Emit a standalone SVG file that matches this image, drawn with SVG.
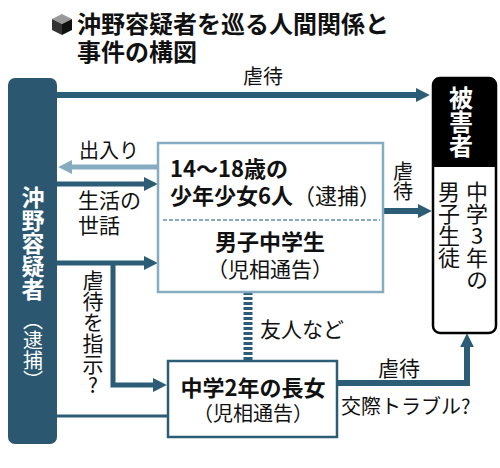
<svg xmlns="http://www.w3.org/2000/svg" width="500" height="468" viewBox="0 0 500 468">
<style>
text{font-family:"Noto Sans CJK JP","Noto Sans",sans-serif;fill:#111}
.b{font-weight:700}
.w{fill:#fff}
.v{writing-mode:vertical-rl;text-orientation:upright}
.dk{stroke:#2c5d76;fill:none}
.lt{stroke:#86acc1;fill:none}
</style>
<defs>
<marker id="ad" viewBox="0 0 10 10" refX="3" refY="5" markerWidth="14" markerHeight="15" markerUnits="userSpaceOnUse" orient="auto"><path d="M0,0 L10,5 L0,10 z" fill="#2c5d76"/></marker>
<marker id="al" viewBox="0 0 10 10" refX="3" refY="5" markerWidth="14" markerHeight="15" markerUnits="userSpaceOnUse" orient="auto"><path d="M0,0 L10,5 L0,10 z" fill="#86acc1"/></marker>
</defs>
<rect width="500" height="468" fill="#fff"/>
<g id="title">
<polygon points="62,14 72,19 62,24 52,19" fill="#999"/>
<polygon points="52,19 62,24 62,35 52,30" fill="#333"/>
<polygon points="72,19 62,24 62,35 72,30" fill="#111"/>
<text class="b" font-size="24"><tspan x="77" y="33">沖野容疑者を巡る人間関係と</tspan><tspan x="77" y="61">事件の構図</tspan></text>
</g>
<g id="connectors">
<line x1="57" y1="95" x2="420" y2="95" class="dk" stroke-width="6" marker-end="url(#ad)"/>
<line x1="158" y1="167" x2="68" y2="167" class="lt" stroke-width="5" marker-end="url(#al)"/>
<line x1="57" y1="184" x2="148" y2="184" class="dk" stroke-width="5" marker-end="url(#ad)"/>
<line x1="57" y1="263" x2="148" y2="263" class="dk" stroke-width="5" marker-end="url(#ad)"/>
<polyline points="113,263 113,385 157,385" class="dk" stroke-width="5" marker-end="url(#ad)"/>
<line x1="57" y1="416" x2="168" y2="416" class="dk" stroke-width="3"/>
<line x1="383" y1="211" x2="422" y2="211" class="dk" stroke-width="6" marker-end="url(#ad)"/>
<line x1="248" y1="292" x2="248" y2="360" class="dk" stroke-width="9" stroke-dasharray="3 2"/>
<polyline points="337,383 467,383 467,343" class="dk" stroke-width="6" marker-end="url(#ad)"/>
<text x="243" y="84" font-size="20">虐待</text>
<text x="79" y="158" font-size="20">出入り</text>
<text font-size="21"><tspan x="78" y="208">生活の</tspan><tspan x="78" y="233">世話</tspan></text>
<text x="93" y="270" font-size="21" class="v">虐待を指示?</text>
<text x="403" y="161" font-size="20" class="v">虐待</text>
<text x="260" y="337" font-size="21">友人など</text>
<text x="378" y="376" font-size="21">虐待</text>
<text x="341" y="414" font-size="20">交際トラブル?</text>
</g>
<g id="okino">
<rect x="8" y="78" width="49" height="366" rx="7" fill="#2b5870"/>
<text x="33" y="186" font-size="23" class="v b w">沖野容疑者</text>
<text x="33" y="310" font-size="20" class="v w">（逮捕）</text>
</g>
<g id="youths">
<rect x="158" y="143" width="225" height="149" fill="#fff" stroke="#86acc1" stroke-width="2.5"/>
<line x1="163" y1="220" x2="380" y2="220" stroke="#86acc1" stroke-width="2" stroke-dasharray="4 2"/>
<text font-size="22"><tspan x="170" y="177" class="b">14～18歳の</tspan><tspan x="170" y="204" class="b">少年少女6人</tspan><tspan>（逮捕）</tspan></text>
<text font-size="22" text-anchor="middle"><tspan x="270" y="250" class="b">男子中学生</tspan><tspan x="270" y="277" font-size="21">（児相通告）</tspan></text>
</g>
<g id="daughter">
<rect x="168" y="361" width="169" height="76" fill="#fff" stroke="#2c5d76" stroke-width="2.5"/>
<text font-size="22" text-anchor="middle"><tspan x="253" y="396" class="b">中学2年の長女</tspan><tspan x="253" y="421" font-size="20">（児相通告）</tspan></text>
</g>
<g id="victim">
<rect x="433" y="78" width="63" height="255" rx="7" fill="#fff" stroke="#000" stroke-width="2.5"/>
<path d="M433,167 V85 a7,7 0 0 1 7,-7 H489 a7,7 0 0 1 7,7 V167 z" fill="#000"/>
<text x="461" y="86" font-size="24" class="v b w">被害者</text>
<text x="477" y="181" font-size="22" class="v">中学3年の</text>
<text x="449" y="181" font-size="22" class="v">男子生徒</text>
</g>
</svg>
